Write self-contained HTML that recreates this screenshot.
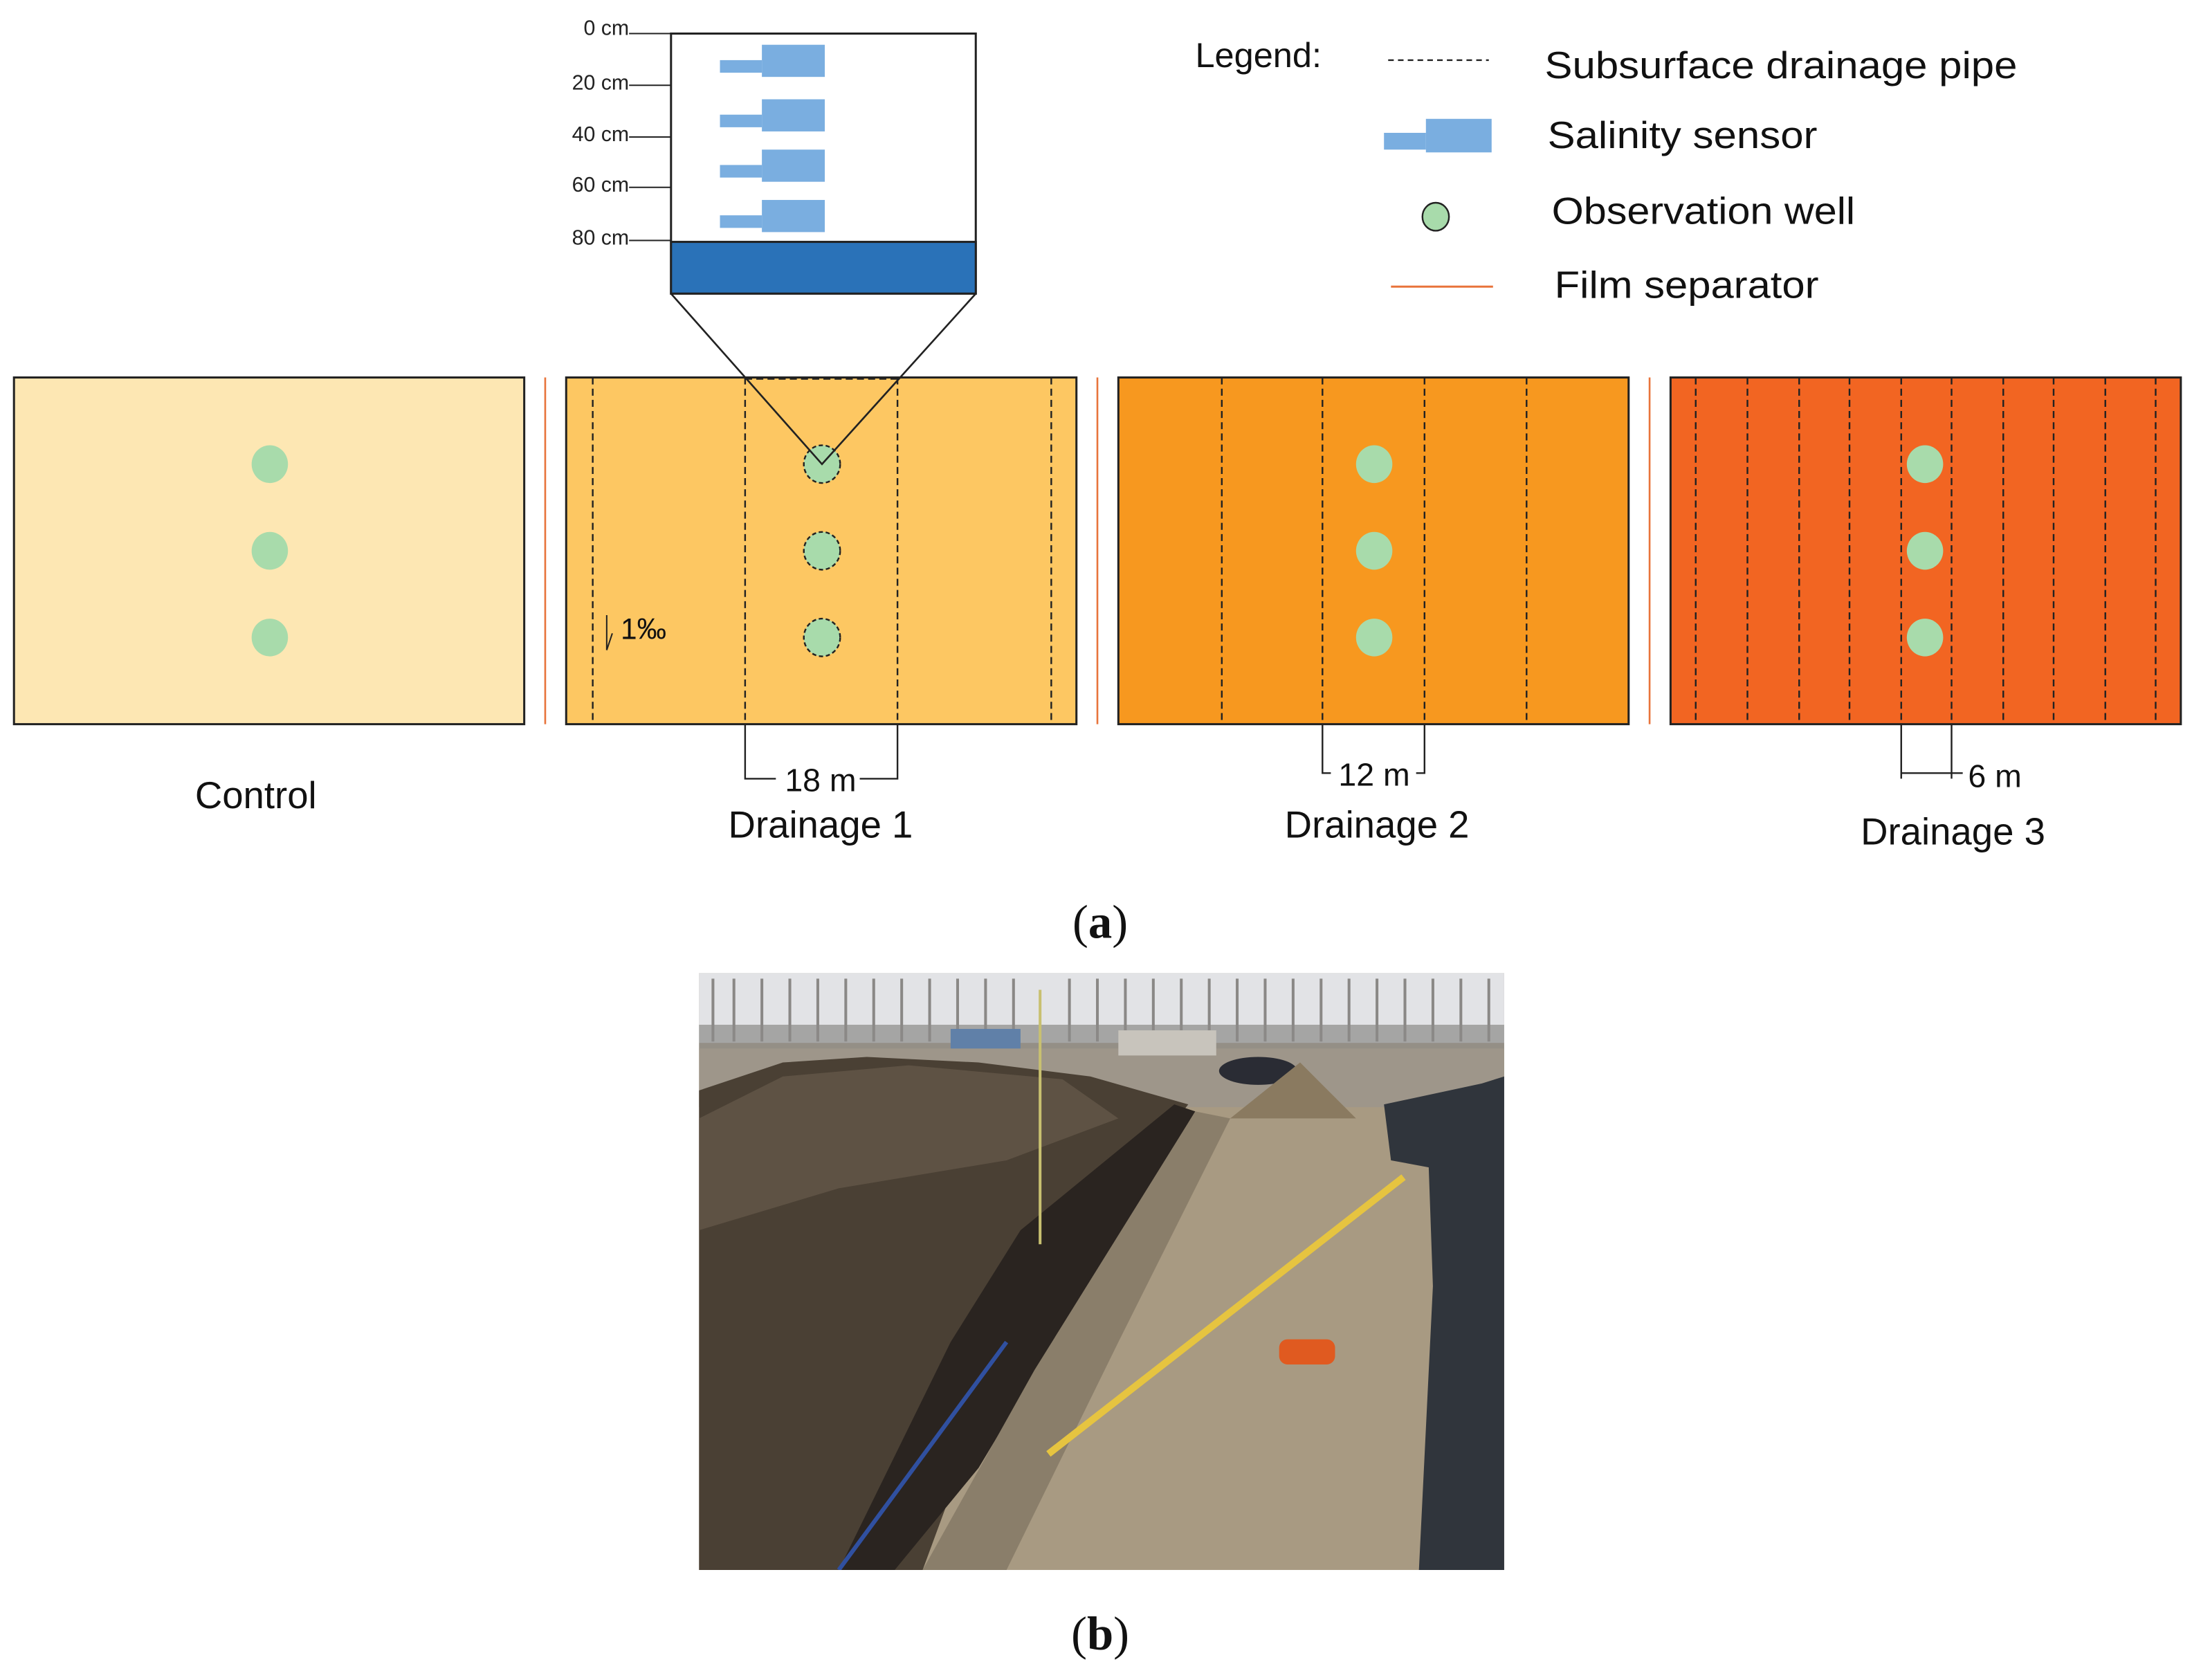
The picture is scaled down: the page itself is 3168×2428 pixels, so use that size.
<!DOCTYPE html>
<html><head><meta charset="utf-8"><style>html,body{margin:0;padding:0;background:#fff}svg{display:block}</style></head><body>
<svg width="3168" height="2428" viewBox="0 0 1568 1201.7" xmlns="http://www.w3.org/2000/svg" font-family="Liberation Sans, sans-serif">
<rect width="1568" height="1202" fill="#fff"/>
<!-- inset -->
<rect x="480" y="24" width="218" height="186" fill="#fff" stroke="#222" stroke-width="1.5"/>
<rect x="480" y="173" width="218" height="37" fill="#2a72b8" stroke="#222" stroke-width="1.5"/>
<g fill="#7aaee0">
<rect x="545" y="32" width="45" height="23"/><rect x="515" y="43" width="30" height="9"/>
<rect x="545" y="71" width="45" height="23"/><rect x="515" y="82" width="30" height="9"/>
<rect x="545" y="107" width="45" height="23"/><rect x="515" y="118" width="30" height="9"/>
<rect x="545" y="143" width="45" height="23"/><rect x="515" y="154" width="30" height="9"/>
</g>
<g stroke="#222" stroke-width="1">
<line x1="450" y1="24" x2="480" y2="24"/><line x1="450" y1="61" x2="480" y2="61"/><line x1="450" y1="98" x2="480" y2="98"/><line x1="450" y1="134" x2="480" y2="134"/><line x1="450" y1="172" x2="480" y2="172"/>
</g>
<g font-size="15" fill="#222" text-anchor="end">
<text x="450" y="25">0 cm</text><text x="450" y="64">20 cm</text><text x="450" y="101">40 cm</text><text x="450" y="137">60 cm</text><text x="450" y="175">80 cm</text>
</g>
<!-- legend -->
<text x="855" y="48" font-size="25" fill="#111">Legend:</text>
<line x1="993" y1="43" x2="1065" y2="43" stroke="#222" stroke-width="1.2" stroke-dasharray="4,3"/>
<rect x="1020" y="85" width="47" height="24" fill="#7aaee0"/><rect x="990" y="95" width="30" height="12" fill="#7aaee0"/>
<ellipse cx="1027" cy="155" rx="9.5" ry="10" fill="#a8dbab" stroke="#222" stroke-width="1.2"/>
<line x1="995" y1="205" x2="1068" y2="205" stroke="#e8743b" stroke-width="1.5"/>
<g font-size="27" fill="#111">
<text x="1105" y="56" textLength="338" lengthAdjust="spacingAndGlyphs">Subsurface drainage pipe</text>
<text x="1107" y="106" textLength="193" lengthAdjust="spacingAndGlyphs">Salinity sensor</text>
<text x="1110" y="160" textLength="217" lengthAdjust="spacingAndGlyphs">Observation well</text>
<text x="1112" y="213" textLength="189" lengthAdjust="spacingAndGlyphs">Film separator</text>
</g>
<!-- separators -->
<g stroke="#e8743b" stroke-width="1.3"><line x1="390" y1="270" x2="390" y2="518"/><line x1="785" y1="270" x2="785" y2="518"/><line x1="1180" y1="270" x2="1180" y2="518"/></g>
<!-- plots -->
<rect x="10" y="270" width="365" height="248" fill="#fde7b3" stroke="#222" stroke-width="1.5"/>
<rect x="405" y="270" width="365" height="248" fill="#fdc762" stroke="#222" stroke-width="1.5"/>
<rect x="800" y="270" width="365" height="248" fill="#f7981f" stroke="#222" stroke-width="1.5"/>
<rect x="1195" y="270" width="365" height="248" fill="#f26522" stroke="#222" stroke-width="1.5"/>
<g stroke="#222" stroke-width="1.2" stroke-dasharray="5,3" fill="none">
<line x1="424" y1="270" x2="424" y2="518"/><line x1="533" y1="270" x2="533" y2="518"/><line x1="642" y1="270" x2="642" y2="518"/><line x1="752" y1="270" x2="752" y2="518"/>
<line x1="533" y1="271" x2="642" y2="271"/>
<line x1="874" y1="270" x2="874" y2="518"/><line x1="946" y1="270" x2="946" y2="518"/><line x1="1019" y1="270" x2="1019" y2="518"/><line x1="1092" y1="270" x2="1092" y2="518"/>
<line x1="1213" y1="270" x2="1213" y2="518"/><line x1="1250" y1="270" x2="1250" y2="518"/><line x1="1287" y1="270" x2="1287" y2="518"/><line x1="1323" y1="270" x2="1323" y2="518"/><line x1="1360" y1="270" x2="1360" y2="518"/><line x1="1396" y1="270" x2="1396" y2="518"/><line x1="1433" y1="270" x2="1433" y2="518"/><line x1="1469" y1="270" x2="1469" y2="518"/><line x1="1506" y1="270" x2="1506" y2="518"/><line x1="1542" y1="270" x2="1542" y2="518"/>
</g>
<g fill="#a8dbab">
<ellipse cx="193" cy="332" rx="13" ry="13.5"/><ellipse cx="193" cy="394" rx="13" ry="13.5"/><ellipse cx="193" cy="456" rx="13" ry="13.5"/>
<ellipse cx="983" cy="332" rx="13" ry="13.5"/><ellipse cx="983" cy="394" rx="13" ry="13.5"/><ellipse cx="983" cy="456" rx="13" ry="13.5"/>
<ellipse cx="1377" cy="332" rx="13" ry="13.5"/><ellipse cx="1377" cy="394" rx="13" ry="13.5"/><ellipse cx="1377" cy="456" rx="13" ry="13.5"/>
</g>
<g fill="#a8dbab" stroke="#222" stroke-width="1.2" stroke-dasharray="3,2">
<ellipse cx="588" cy="332" rx="13" ry="13.5"/><ellipse cx="588" cy="394" rx="13" ry="13.5"/><ellipse cx="588" cy="456" rx="13" ry="13.5"/>
</g>
<polyline points="480,210 588,332 698,210" fill="none" stroke="#222" stroke-width="1.3"/>
<!-- slope -->
<line x1="434" y1="440" x2="434" y2="465" stroke="#222" stroke-width="1"/><line x1="434" y1="465" x2="438" y2="453" stroke="#222" stroke-width="1"/>
<text x="444" y="457" font-size="21" fill="#111">1‰</text>
<!-- dimensions -->
<g stroke="#222" stroke-width="1.2" fill="none">
<polyline points="533,518 533,557 555,557"/><polyline points="642,518 642,557 615,557"/>
<polyline points="946,518 946,553 952,553"/><polyline points="1019,518 1019,553 1013,553"/>
<line x1="1360" y1="518" x2="1360" y2="557"/><line x1="1396" y1="518" x2="1396" y2="557"/><line x1="1360" y1="553" x2="1404" y2="553"/>
</g>
<g font-size="23" fill="#111" text-anchor="middle">
<text x="587" y="566">18 m</text><text x="983" y="562">12 m</text><text x="1427" y="563">6 m</text>
</g>
<g font-size="27" fill="#111" text-anchor="middle">
<text x="183" y="578">Control</text><text x="587" y="599">Drainage 1</text><text x="985" y="599">Drainage 2</text><text x="1397" y="604">Drainage 3</text>
</g>
<g font-family="Liberation Serif, serif" font-size="34" fill="#111" text-anchor="middle">
<text x="787" y="671">(<tspan font-weight="bold">a</tspan>)</text>
<text x="787" y="1180">(<tspan font-weight="bold">b</tspan>)</text>
</g>
<!-- photo -->
<svg x="500" y="696" width="576" height="427" viewBox="500 696 576 427">
<rect x="500" y="696" width="576" height="427" fill="#a89a82"/>
<rect x="500" y="696" width="576" height="50" fill="#e2e3e6"/>
<g stroke="#8a8886" stroke-width="2">
<line x1="510" y1="700" x2="510" y2="745"/><line x1="525" y1="700" x2="525" y2="745"/><line x1="545" y1="700" x2="545" y2="745"/><line x1="565" y1="700" x2="565" y2="745"/><line x1="585" y1="700" x2="585" y2="745"/><line x1="605" y1="700" x2="605" y2="745"/><line x1="625" y1="700" x2="625" y2="745"/><line x1="645" y1="700" x2="645" y2="745"/><line x1="665" y1="700" x2="665" y2="745"/><line x1="685" y1="700" x2="685" y2="745"/><line x1="705" y1="700" x2="705" y2="745"/><line x1="725" y1="700" x2="725" y2="745"/><line x1="765" y1="700" x2="765" y2="745"/><line x1="785" y1="700" x2="785" y2="745"/><line x1="805" y1="700" x2="805" y2="745"/><line x1="825" y1="700" x2="825" y2="745"/><line x1="845" y1="700" x2="845" y2="745"/><line x1="865" y1="700" x2="865" y2="745"/><line x1="885" y1="700" x2="885" y2="745"/><line x1="905" y1="700" x2="905" y2="745"/><line x1="925" y1="700" x2="925" y2="745"/><line x1="945" y1="700" x2="945" y2="745"/><line x1="965" y1="700" x2="965" y2="745"/><line x1="985" y1="700" x2="985" y2="745"/><line x1="1005" y1="700" x2="1005" y2="745"/><line x1="1025" y1="700" x2="1025" y2="745"/><line x1="1045" y1="700" x2="1045" y2="745"/><line x1="1065" y1="700" x2="1065" y2="745"/>
</g>
<rect x="500" y="733" width="576" height="18" fill="#8c8a88" opacity="0.7"/>
<rect x="500" y="750" width="576" height="42" fill="#9e968a"/>
<rect x="680" y="736" width="50" height="14" fill="#6080a8"/>
<rect x="800" y="737" width="70" height="18" fill="#c8c4bc"/>
<ellipse cx="900" cy="766" rx="28" ry="10" fill="#2a2c34"/>
<polygon points="880,800 930,760 970,800" fill="#8a7a60"/>
<polygon points="500,780 560,760 620,756 700,760 780,770 850,790 780,880 720,960 660,1123 500,1123" fill="#4a4034"/>
<polygon points="500,800 560,770 650,762 760,772 800,800 720,830 600,850 500,880" fill="#5e5244"/>
<polygon points="730,880 840,790 855,795 760,950 700,1050 640,1123 600,1123 680,960" fill="#2a2420"/>
<polygon points="855,795 880,800 800,960 720,1123 660,1123 740,980" fill="#8a7e6a"/>
<line x1="600" y1="1123" x2="720" y2="960" stroke="#3050a0" stroke-width="3"/>
<polygon points="990,790 1060,775 1076,770 1076,1123 1015,1123 1025,920 1022,835 995,830" fill="#30353c"/>
<line x1="750" y1="1040" x2="1004" y2="842" stroke="#e6c440" stroke-width="5"/>
<line x1="744" y1="708" x2="744" y2="890" stroke="#c8c070" stroke-width="2"/>
<rect x="915" y="958" width="40" height="18" rx="6" fill="#e05a20"/>
</svg>
</svg>
</body></html>
